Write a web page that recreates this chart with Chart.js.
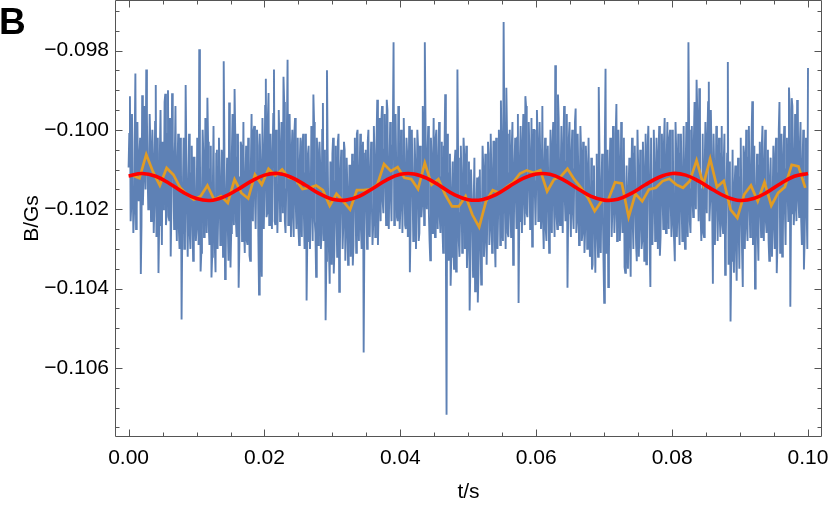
<!DOCTYPE html>
<html><head><meta charset="utf-8">
<script src="https://cdn.jsdelivr.net/npm/chart.js@4.4.1/dist/chart.umd.min.js"></script>
<style>html,body{margin:0;padding:0;background:#fff}#wrap{position:relative;width:830px;height:507px}</style>
</head><body><div id="wrap"><canvas id="c" width="830" height="507"></canvas></div>
<script>
// raw field samples, B/Gs. Sampling interval blueStep = 0.1 ms.
// blueValuesA: samples at t = 0, 0.2 ms, 0.4 ms ... ; blueValuesB: samples at t = 0.1 ms, 0.3 ms ...
const blueStep = 0.0001;
const blueValuesA = [
-0.10095,-0.09915,-0.1019,-0.1012,-0.1021,-0.09858,-0.102,-0.1015,-0.1006,-0.10363,
-0.09913,-0.1013,-0.1004,-0.09848,-0.1011,-0.1017,-0.1003,-0.1014,-0.10075,-0.1019,
-0.09887,-0.1018,-0.10361,-0.1006,-0.1015,-0.1003,-0.1017,-0.09909,-0.10215,-0.099,
-0.1023,-0.10319,-0.09908,-0.1011,-0.1007,-0.102,-0.1009,-0.1025,-0.1002,-0.10478,
-0.1014,-0.103,-0.09887,-0.1021,-0.1016,-0.1026,-0.1011,-0.1023,-0.1007,-0.10205,
-0.1025,-0.1012,-0.09797,-0.10357,-0.1017,-0.1006,-0.1023,-0.1014,-0.09919,-0.1024,
-0.101,-0.10372,-0.1015,-0.1021,-0.10359,-0.1005,-0.102,-0.1013,-0.1026,-0.1009,
-0.09827,-0.10376,-0.1016,-0.1024,-0.09931,-0.10347,-0.1006,-0.1018,-0.09897,-0.1023,
-0.1007,-0.10398,-0.1012,-0.1004,-0.102,-0.1025,-0.1013,-0.1028,-0.1002,-0.10317,
-0.1009,-0.102,-0.1,-0.1017,-0.1011,-0.1004,-0.10415,-0.1008,-0.1037,-0.1006,
-0.1015,-0.09871,-0.1021,-0.09907,-0.1013,-0.1019,-0.1006,-0.09848,-0.1024,-0.1011,
-0.1017,-0.1003,-0.102,-0.1008,-0.09866,-0.1023,-0.1015,-0.09823,-0.1019,-0.1009,
-0.1006,-0.1022,-0.1001,-0.1018,-0.1014,-0.1025,-0.1008,-0.1019,-0.1003,-0.1021,
-0.1011,-0.1043,-0.1006,-0.1016,-0.102,-0.1012,-0.09911,-0.1023,-0.1037,-0.1005,
-0.102,-0.1009,-0.1026,-0.09932,-0.1018,-0.1048,-0.0985,-0.1022,-0.10388,-0.1012,
-0.1006,-0.10362,-0.1013,-0.1021,-0.1003,-0.10408,-0.101,-0.1017,-0.1024,-0.1005,
-0.1026,-0.1015,-0.1029,-0.1009,-0.1023,-0.10342,-0.1008,-0.1017,-0.1001,-0.102,
-0.1012,-0.1025,-0.1004,-0.10561,-0.1006,-0.1019,-0.1003,-0.1023,-0.1011,-0.1018,
-0.1024,-0.1007,-0.1016,-0.09924,-0.102,-0.1013,-0.0998,-0.1018,-0.1005,-0.1012,
-0.09924,-0.1021,-0.101,-0.1016,-0.1004,-0.09779,-0.1018,-0.1011,-0.1023,-0.1007,
-0.102,-0.1002,-0.1017,-0.1009,-0.1025,-0.1006,-0.1019,-0.10359,-0.1,-0.1015,
-0.1023,-0.1009,-0.1018,-0.1004,-0.1026,-0.101,-0.1019,-0.1003,-0.09779,-0.1017,
-0.1006,-0.1021,-0.10329,-0.1008,-0.1013,-0.102,-0.1002,-0.1016,-0.1009,-0.1022,
-0.1012,-0.1025,-0.1004,-0.0991,-0.10718,-0.1019,-0.1011,-0.10393,-0.1015,-0.1026,
-0.1008,-0.10357,-0.09848,-0.1028,-0.1021,-0.1013,-0.1023,-0.1006,-0.1026,-0.10348,
-0.1014,-0.10455,-0.101,-0.1023,-0.1018,-0.10407,-0.1019,-0.10435,-0.1012,-0.103,
-0.1024,-0.1009,-0.1028,-0.1015,-0.1021,-0.1006,-0.1025,-0.1012,-0.1019,-0.1003,
-0.10346,-0.1011,-0.102,-0.1006,-0.09926,-0.1023,-0.09728,-0.1021,-0.09894,-0.1026,
-0.1011,-0.102,-0.1004,-0.1034,-0.1009,-0.1016,-0.1002,-0.10436,-0.1007,-0.1015,
-0.1003,-0.1018,-0.09915,-0.1021,-0.1012,-0.1006,-0.1019,-0.10294,-0.1,-0.1016,
-0.1013,-0.1002,-0.102,-0.1008,-0.1017,-0.1023,-0.101,-0.1025,-0.1005,-0.1019,
-0.1014,-0.1021,-0.1003,-0.1018,-0.09837,-0.1022,-0.09911,-0.1019,-0.1011,-0.1016,
-0.1004,-0.1017,-0.1008,-0.10398,-0.1002,-0.1019,-0.1006,-0.1021,-0.101,-0.09946,
-0.1023,-0.1012,-0.102,-0.1005,-0.1026,-0.1014,-0.1025,-0.1009,-0.1022,-0.1017,
-0.1028,-0.10352,-0.1013,-0.1024,-0.1017,-0.1026,-0.09892,-0.1023,-0.1015,-0.102,
-0.10436,-0.09846,-0.1018,-0.10396,-0.101,-0.1007,-0.102,-0.1013,-0.1021,-0.09935,
-0.1019,-0.1008,-0.1023,-0.1004,-0.1016,-0.10346,-0.1018,-0.1026,-0.1015,-0.1029,
-0.1011,-0.1023,-0.1006,-0.102,-0.10331,-0.1009,-0.1024,-0.1015,-0.1028,-0.1011,
-0.102,-0.10339,-0.1004,-0.1012,-0.10396,-0.1002,-0.1019,-0.1009,-0.1023,-0.1014,
-0.1006,-0.10317,-0.101,-0.1017,-0.1003,-0.1021,-0.1008,-0.1016,-0.1002,-0.1019,
-0.1011,-0.1024,-0.10331,-0.1005,-0.1017,-0.1022,-0.1006,-0.1019,-0.1013,-0.1025,
-0.1009,-0.102,-0.09779,-0.1023,-0.1015,-0.1017,-0.1003,-0.1014,-0.09874,-0.1011,
-0.09895,-0.1022,-0.1015,-0.1026,-0.1009,-0.1014,-0.1001,-0.09879,-0.1018,-0.1006,
-0.10388,-0.101,-0.1019,-0.1003,-0.1017,-0.1021,-0.1006,-0.1024,-0.1008,-0.10365,
-0.1015,-0.09829,-0.1026,-0.10483,-0.1023,-0.1028,-0.1014,-0.103,-0.102,-0.1025,
-0.1012,-0.1021,-0.10396,-0.1006,-0.1018,-0.1024,-0.1007,-0.1019,-0.1012,-0.09928,
-0.1023,-0.104,-0.1015,-0.1026,-0.1009,-0.102,-0.1004,-0.1017,-0.101,-0.1023,
-0.1014,-0.1028,-0.1012,-0.1025,-0.1018,-0.1023,-0.1006,-0.10361,-0.1011,-0.0993,
-0.1017,-0.10319,-0.1006,-0.102,-0.101,-0.1015,-0.09893,-0.10446,-0.0992,-0.1007,
-0.102,-0.1012,-0.09925,-0.1018,-0.1004,-0.1023,-0.1009,-0.10352,-0.1013,-0.102,
-0.09844
];
const blueValuesB = [
-0.1001,-0.1023,-0.0996,-0.1026,-0.1003,-0.1025,-0.0998,-0.1018,-0.1002,-0.1024,
-0.1019,-0.0994,-0.1015,-0.0997,-0.102,-0.0996,-0.1023,-0.1,-0.1026,-0.0998,
-0.1027,-0.1002,-0.1024,-0.0995,-0.1029,-0.102,-0.0993,-0.1024,-0.1001,-0.1022,
-0.0997,-0.102,-0.1003,-0.1025,-0.0994,-0.1028,-0.1001,-0.103,-0.1004,-0.1026,
-0.1002,-0.1029,-0.1006,-0.1032,-0.1001,-0.103,-0.1004,-0.1033,-0.1007,-0.1028,
-0.1002,-0.1029,-0.1005,-0.1031,-0.1,-0.1027,-0.0997,-0.1026,-0.1003,-0.1029,
-0.1004,-0.1032,-0.0999,-0.103,-0.1006,-0.103,-0.1002,-0.1029,-0.1005,-0.1032,
-0.1004,-0.1031,-0.1007,-0.1033,-0.1003,-0.1026,-0.0996,-0.1024,-0.1001,-0.1027,
-0.1001,-0.103,-0.1003,-0.1028,-0.0998,-0.1031,-0.1004,-0.1029,-0.1006,-0.1033,
-0.0996,-0.1023,-0.0999,-0.1025,-0.1,-0.1027,-0.1001,-0.1029,-0.0997,-0.1025,
-0.0994,-0.1022,-0.0997,-0.1024,-0.1001,-0.1025,-0.0996,-0.1023,-0.1,-0.1026,
-0.0995,-0.1023,-0.0998,-0.1021,-0.0993,-0.1026,-0.1,-0.1024,-0.0996,-0.1027,
-0.1,-0.1027,-0.0997,-0.1025,-0.1002,-0.1029,-0.1002,-0.1027,-0.1001,-0.103,
-0.1001,-0.1028,-0.1004,-0.103,-0.0999,-0.1028,-0.0998,-0.1026,-0.1002,-0.1029,
-0.1003,-0.103,-0.1,-0.1028,-0.1005,-0.1033,-0.1006,-0.1031,-0.1008,-0.1034,
-0.1002,-0.103,-0.1004,-0.1032,-0.1001,-0.1032,-0.1005,-0.103,-0.1003,-0.1033,
-0.1007,-0.1034,-0.1009,-0.1032,-0.1006,-0.1029,-0.1002,-0.1031,-0.1,-0.1028,
-0.1001,-0.103,-0.1003,-0.1028,-0.1005,-0.103,-0.1,-0.1027,-0.1003,-0.1029,
-0.0999,-0.1027,-0.1002,-0.1029,-0.0997,-0.1023,-0.0994,-0.1021,-0.0996,-0.1024,
-0.0995,-0.1025,-0.0998,-0.1023,-0.1,-0.1024,-0.0996,-0.1022,-0.0994,-0.1025,
-0.1,-0.1026,-0.0997,-0.1024,-0.1002,-0.1027,-0.0999,-0.1025,-0.1001,-0.1028,
-0.1002,-0.103,-0.1,-0.1028,-0.1004,-0.1022,-0.0994,-0.1024,-0.0997,-0.102,
-0.0999,-0.1028,-0.1002,-0.1026,-0.0997,-0.1027,-0.1,-0.1025,-0.0998,-0.1026,
-0.1003,-0.1031,-0.1005,-0.103,-0.1001,-0.1033,-0.1006,-0.1032,-0.1008,-0.1035,
-0.1005,-0.1034,-0.1007,-0.1032,-0.1004,-0.1031,-0.1002,-0.103,-0.1004,-0.1029,
-0.1008,-0.1035,-0.101,-0.1037,-0.1007,-0.1038,-0.1012,-0.1036,-0.101,-0.1039,
-0.1004,-0.1032,-0.1006,-0.1034,-0.1003,-0.1029,-0.1001,-0.1031,-0.1003,-0.1028,
-0.1002,-0.103,-0.1,-0.1029,-0.1004,-0.1028,-0.0999,-0.103,-0.1001,-0.1027,
-0.1,-0.1027,-0.0998,-0.1026,-0.1002,-0.1025,-0.0996,-0.1023,-0.0999,-0.1026,
-0.0996,-0.1024,-0.0994,-0.1022,-0.0998,-0.1025,-0.0997,-0.1023,-0.1,-0.1024,
-0.0995,-0.1023,-0.0998,-0.1025,-0.0994,-0.103,-0.1002,-0.1028,-0.1004,-0.1031,
-0.1,-0.1026,-0.0998,-0.1027,-0.1001,-0.1025,-0.0997,-0.1024,-0.0999,-0.1026,
-0.0994,-0.1023,-0.0996,-0.1021,-0.0998,-0.1027,-0.1,-0.1025,-0.0998,-0.1026,
-0.1001,-0.1029,-0.0999,-0.1028,-0.1003,-0.1031,-0.1004,-0.103,-0.1002,-0.1032,
-0.1007,-0.1034,-0.1009,-0.1036,-0.1006,-0.1032,-0.1004,-0.1031,-0.1006,-0.1033,
-0.1003,-0.1031,-0.1005,-0.1032,-0.1002,-0.1027,-0.0999,-0.1026,-0.1001,-0.1028,
-0.1,-0.1028,-0.0998,-0.1026,-0.1002,-0.1036,-0.1009,-0.1035,-0.1007,-0.1037,
-0.1002,-0.103,-0.1004,-0.1029,-0.1,-0.1032,-0.1005,-0.103,-0.1003,-0.1033,
-0.1001,-0.1029,-0.0999,-0.103,-0.1002,-0.1029,-0.1,-0.1028,-0.1002,-0.103,
-0.0999,-0.1027,-0.1001,-0.1025,-0.0997,-0.1026,-0.0998,-0.1025,-0.1,-0.1027,
-0.1,-0.1028,-0.0998,-0.1027,-0.1001,-0.1029,-0.1001,-0.1028,-0.0999,-0.103,
-0.0998,-0.1027,-0.1,-0.1026,-0.0999,-0.1022,-0.0993,-0.102,-0.0995,-0.1023,
-0.0999,-0.1028,-0.1001,-0.1027,-0.0998,-0.1021,-0.0993,-0.1023,-0.0995,-0.102,
-0.1001,-0.1029,-0.0999,-0.1028,-0.1002,-0.1027,-0.0999,-0.1026,-0.1001,-0.1028,
-0.1006,-0.1034,-0.1008,-0.1033,-0.1005,-0.1036,-0.1009,-0.1038,-0.1007,-0.1035,
-0.1002,-0.1031,-0.1004,-0.103,-0.1,-0.1028,-0.0999,-0.1027,-0.1001,-0.1029,
-0.1004,-0.1032,-0.1006,-0.1033,-0.1003,-0.1027,-0.0999,-0.1028,-0.1,-0.1026,
-0.1005,-0.1033,-0.1007,-0.1032,-0.1004,-0.103,-0.1002,-0.1029,-0.1,-0.1031,
-0.1001,-0.1028,-0.0999,-0.1029,-0.1002,-0.1023,-0.0995,-0.1021,-0.0994,-0.1024,
-0.0996,-0.1023,-0.0994,-0.1022,-0.0998,-0.1029,-0.1,-0.1028,-0.1002,-0.103
];

// block-averaged field (orange), one every orangeStep seconds from orangeStart
const orangeStart = 0.0006;
const orangeStep = 0.001;
const orangeValues = [
-0.10115,-0.10122,-0.10062,-0.10106,-0.1014,-0.10096,-0.10113,-0.10146,-0.10163,-0.10176,
-0.10167,-0.1014,-0.10176,-0.10167,-0.10184,-0.10125,-0.10159,-0.10173,-0.10113,-0.10138,
-0.10098,-0.10115,-0.101,-0.10121,-0.10125,-0.10149,-0.10146,-0.1014,-0.10152,-0.10191,
-0.10161,-0.1018,-0.10201,-0.10152,-0.10152,-0.1015,-0.10138,-0.10086,-0.10104,-0.10094,
-0.10121,-0.10124,-0.10149,-0.10083,-0.10138,-0.10124,-0.10163,-0.10193,-0.10193,-0.10167,
-0.10214,-0.10245,-0.1018,-0.10152,-0.10159,-0.10144,-0.10132,-0.1011,-0.10102,-0.10108,
-0.10102,-0.10155,-0.10125,-0.10118,-0.10098,-0.10125,-0.10146,-0.10171,-0.10205,-0.1018,
-0.10176,-0.10132,-0.10135,-0.1022,-0.10161,-0.1018,-0.1015,-0.10146,-0.10129,-0.10123,
-0.10138,-0.10146,-0.10129,-0.10077,-0.10138,-0.10073,-0.10144,-0.10129,-0.10201,-0.10222,
-0.10163,-0.1014,-0.1018,-0.10132,-0.10191,-0.10159,-0.10144,-0.10088,-0.10092,-0.10146
];

// sinusoidal fit (red), read every redStep seconds from t = 0
const redStep = 0.002;
const redValues = [
-0.10116,-0.1011,-0.10117,-0.10135,-0.10157,-0.10173,-0.10178,-0.10169,-0.10151,-0.1013,
-0.10114,-0.1011,-0.1012,-0.10139,-0.1016,-0.10175,-0.10177,-0.10167,-0.10147,-0.10126,
-0.10112,-0.10111,-0.10123,-0.10143,-0.10164,-0.10176,-0.10176,-0.10164,-0.10143,-0.10123,
-0.10111,-0.10112,-0.10126,-0.10147,-0.10167,-0.10177,-0.10175,-0.1016,-0.10139,-0.1012,
-0.1011,-0.10114,-0.1013,-0.10151,-0.10169,-0.10178,-0.10173,-0.10157,-0.10135,-0.10117,
-0.1011
];

const xTicks = [0, 0.02, 0.04, 0.06, 0.08, 0.10];
const xTickLabels = ['0.00', '0.02', '0.04', '0.06', '0.08', '0.10'];
const xMinorTicks = [0.005,0.01,0.015,0.025,0.03,0.035,0.045,0.05,0.055,0.065,0.07,0.075,0.085,0.09,0.095];
const yTicks = [-0.106, -0.104, -0.102, -0.100, -0.098];
const yTickLabels = ['\u22120.106', '\u22120.104', '\u22120.102', '\u22120.100', '\u22120.098'];
const yMinorTicks = [-0.1075,-0.107,-0.1065,-0.1055,-0.105,-0.1045,-0.1035,-0.103,-0.1025,-0.1015,-0.101,-0.1005,-0.0995,-0.099,-0.0985,-0.0975,-0.097];

const FONT = '"Liberation Sans", Arial, sans-serif';

// merge the two interleaved sample sets into one time-ordered series
const blueData = [];
blueValuesA.forEach((v, i) => {
  blueData.push({x: 2 * i * blueStep, y: v});
  if (i < blueValuesB.length) blueData.push({x: (2 * i + 1) * blueStep, y: blueValuesB[i]});
});
const orangeData = orangeValues.map((v, i) => ({x: orangeStart + i * orangeStep, y: v}));
const redData = redValues.map((v, i) => ({x: i * redStep, y: v}));

const frameTicks = {
  id: 'frameTicks',
  afterDatasetsDraw(chart) {
    const {ctx, chartArea: a, scales: {x, y}} = chart;
    ctx.save();
    ctx.lineWidth = 1;
    ctx.strokeStyle = '#555';
    ctx.beginPath();
    const L = a.left + 0.5, R = a.right - 0.5, T = a.top + 0.5, B = a.bottom - 0.5;
    ctx.moveTo(L, T); ctx.lineTo(R, T); ctx.lineTo(R, B); ctx.lineTo(L, B); ctx.closePath();
    const vt = (v, len) => {
      const p = Math.round(x.getPixelForValue(v)) + 0.5;
      ctx.moveTo(p, B); ctx.lineTo(p, B - len);
      ctx.moveTo(p, T); ctx.lineTo(p, T + len);
    };
    const ht = (v, len) => {
      const p = Math.round(y.getPixelForValue(v)) + 0.5;
      ctx.moveTo(L, p); ctx.lineTo(L + len, p);
      ctx.moveTo(R, p); ctx.lineTo(R - len, p);
    };
    xTicks.forEach(v => vt(v, 7));
    xMinorTicks.forEach(v => vt(v, 4));
    yTicks.forEach(v => ht(v, 7));
    yMinorTicks.forEach(v => ht(v, 4));
    ctx.stroke();
    // panel letter
    ctx.fillStyle = '#000';
    ctx.font = 'bold 37px ' + FONT;
    ctx.textBaseline = 'alphabetic';
    ctx.textAlign = 'left';
    ctx.fillText('B', -1, 34);
    ctx.restore();
  }
};

new Chart(document.getElementById('c'), {
  type: 'line',
  data: {
    datasets: [
      {label: 'fit', data: redData, borderColor: '#ff0000', borderWidth: 3.6, pointRadius: 0, tension: 0.4, fill: false, order: 0},
      {label: 'average', data: orangeData, borderColor: '#e19c24', borderWidth: 2.7, pointRadius: 0, tension: 0, fill: false, order: 1},
      {label: 'raw', data: blueData, borderColor: '#5e81b5', borderWidth: 1.9, pointRadius: 0, tension: 0, fill: false, order: 2}
    ]
  },
  options: {
    responsive: false,
    animation: false,
    devicePixelRatio: 1,
    layout: {padding: {left: 0, right: 8, top: 0, bottom: 0}},
    plugins: {legend: {display: false}, tooltip: {enabled: false}},
    scales: {
      x: {
        type: 'linear', min: -0.002, max: 0.10206,
        grid: {display: false, drawTicks: false},
        border: {display: false},
        afterBuildTicks: s => { s.ticks = xTicks.map(v => ({value: v})); },
        ticks: {
          autoSkip: false, maxRotation: 0, padding: 9, color: '#000',
          font: {family: FONT, size: 21},
          callback: v => { const i = xTicks.findIndex(t => Math.abs(t - v) < 1e-9); return i >= 0 ? xTickLabels[i] : ''; }
        },
        title: {display: true, text: 't/s', color: '#000', font: {family: FONT, size: 21}, padding: {top: 0, bottom: 2}},
        afterFit: s => { s.height = 70; s.paddingLeft = 0; s.paddingRight = 0; }
      },
      y: {
        type: 'linear', min: -0.10774, max: -0.096727,
        grid: {display: false, drawTicks: false},
        border: {display: false},
        afterBuildTicks: s => { s.ticks = yTicks.map(v => ({value: v})); },
        ticks: {
          autoSkip: false, padding: 6, color: '#000',
          font: {family: FONT, size: 21},
          callback: v => { const i = yTicks.findIndex(t => Math.abs(t - v) < 1e-9); return i >= 0 ? yTickLabels[i] : ''; }
        },
        title: {display: true, text: 'B/Gs', color: '#000', font: {family: FONT, size: 21}, padding: {top: 20, bottom: 0}},
        afterFit: s => { s.width = 115; s.paddingTop = 0; s.paddingBottom = 0; }
      }
    }
  },
  plugins: [frameTicks]
});
</script>
</body></html>
